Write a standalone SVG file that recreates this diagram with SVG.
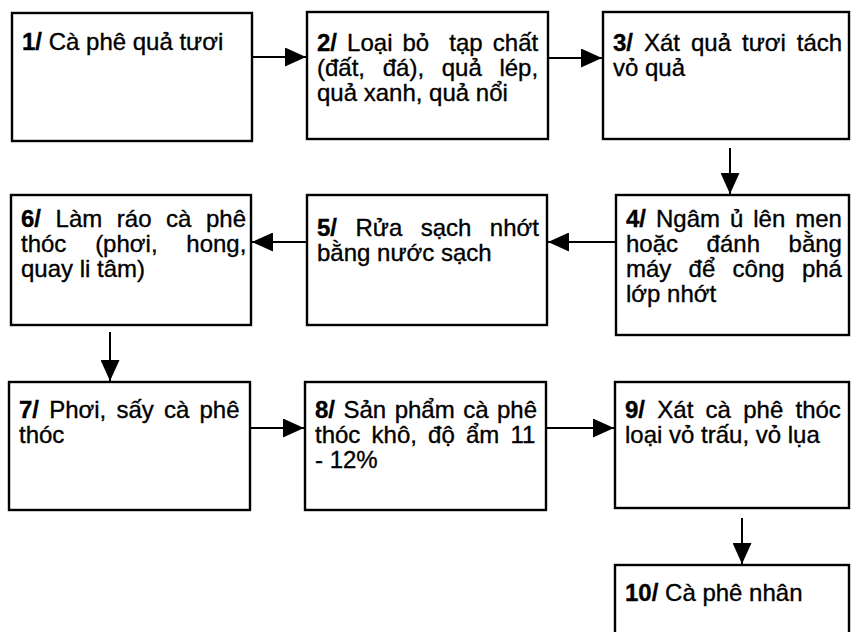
<svg xmlns="http://www.w3.org/2000/svg" width="851" height="632" viewBox="0 0 851 632">
<style>
.box{fill:#fff;stroke:#000;stroke-width:2.4}
.t{font-family:"Liberation Sans",Arial,sans-serif;font-size:24px;fill:#000;stroke:#000;stroke-width:0.35}
.b{font-weight:bold}
.c{stroke:#000;stroke-width:2;fill:none;marker-end:url(#ah)}
</style>
<defs>
<marker id="ah" viewBox="0 0 21 19" refX="21" refY="9.5" markerWidth="21" markerHeight="19" markerUnits="userSpaceOnUse" orient="auto">
<path d="M0,0 L21,9.5 L0,19 z" fill="#000"/>
</marker>
</defs>
<rect width="851" height="632" fill="#fff"/>
<g id="connectors">
<line class="c" x1="252" y1="57" x2="306" y2="57"/>
<line class="c" x1="548" y1="58" x2="602" y2="58"/>
<line class="c" x1="730" y1="148" x2="730" y2="194"/>
<line class="c" x1="616" y1="242" x2="548" y2="242"/>
<line class="c" x1="307" y1="242" x2="252" y2="242"/>
<line class="c" x1="110" y1="332" x2="110" y2="381"/>
<line class="c" x1="250" y1="428" x2="304" y2="428"/>
<line class="c" x1="546" y1="428" x2="614" y2="428"/>
<line class="c" x1="742" y1="518" x2="742" y2="564"/>
</g>
<g id="n1">
<rect class="box" x="12" y="13" width="240" height="128"/>
<text class="t"><tspan x="22" y="50"><tspan class="b">1/</tspan> Cà phê quả tươi</tspan></text>
</g>
<g id="n2">
<rect class="box" x="307" y="12" width="241" height="127"/>
<text class="t" xml:space="preserve"><tspan x="317" y="51" style="word-spacing:3.4px"><tspan class="b">2/</tspan> Loại bỏ  tạp chất</tspan><tspan x="317" y="76" style="word-spacing:11px">(đất, đá), quả lép,</tspan><tspan x="317" y="101">quả xanh, quả nổi</tspan></text>
</g>
<g id="n3">
<rect class="box" x="603" y="12" width="246" height="127"/>
<text class="t"><tspan x="613" y="51" style="word-spacing:4.3px"><tspan class="b">3/</tspan> Xát quả tươi tách</tspan><tspan x="613" y="76">vỏ quả</tspan></text>
</g>
<g id="n4">
<rect class="box" x="616" y="195" width="233" height="140"/>
<text class="t"><tspan x="626" y="227" style="word-spacing:3.3px"><tspan class="b">4/</tspan> Ngâm ủ lên men</tspan><tspan x="626" y="252" style="word-spacing:21.9px">hoặc đánh bằng</tspan><tspan x="626" y="277" style="word-spacing:10.6px">máy để công phá</tspan><tspan x="626" y="302">lớp nhớt</tspan></text>
</g>
<g id="n5">
<rect class="box" x="307" y="195" width="240" height="130"/>
<text class="t"><tspan x="317" y="236" style="word-spacing:11.8px"><tspan class="b">5/</tspan> Rửa sạch nhớt</tspan><tspan x="317" y="261">bằng nước sạch</tspan></text>
</g>
<g id="n6">
<rect class="box" x="11" y="195" width="240" height="130"/>
<text class="t"><tspan x="21" y="227" style="word-spacing:7.9px"><tspan class="b">6/</tspan> Làm ráo cà phê</tspan><tspan x="21" y="252" style="word-spacing:22.1px">thóc (phơi, hong,</tspan><tspan x="21" y="277">quay li tâm)</tspan></text>
</g>
<g id="n7">
<rect class="box" x="9" y="382" width="241" height="128"/>
<text class="t"><tspan x="19" y="418" style="word-spacing:3.5px"><tspan class="b">7/</tspan> Phơi, sấy cà phê</tspan><tspan x="19" y="443">thóc</tspan></text>
</g>
<g id="n8">
<rect class="box" x="305" y="382" width="241" height="128"/>
<text class="t"><tspan x="315" y="418" style="word-spacing:1.8px"><tspan class="b">8/</tspan> Sản phẩm cà phê</tspan><tspan x="315" y="443" style="word-spacing:4.5px">thóc khô, độ ẩm 11</tspan><tspan x="315" y="468">- 12%</tspan></text>
</g>
<g id="n9">
<rect class="box" x="615" y="382" width="234" height="126"/>
<text class="t"><tspan x="625" y="418" style="word-spacing:5.6px"><tspan class="b">9/</tspan> Xát cà phê thóc</tspan><tspan x="625" y="443">loại vỏ trấu, vỏ lụa</tspan></text>
</g>
<g id="n10">
<rect class="box" x="615" y="565" width="234" height="80"/>
<text class="t"><tspan x="625" y="601"><tspan class="b">10/</tspan> Cà phê nhân</tspan></text>
</g>
</svg>
